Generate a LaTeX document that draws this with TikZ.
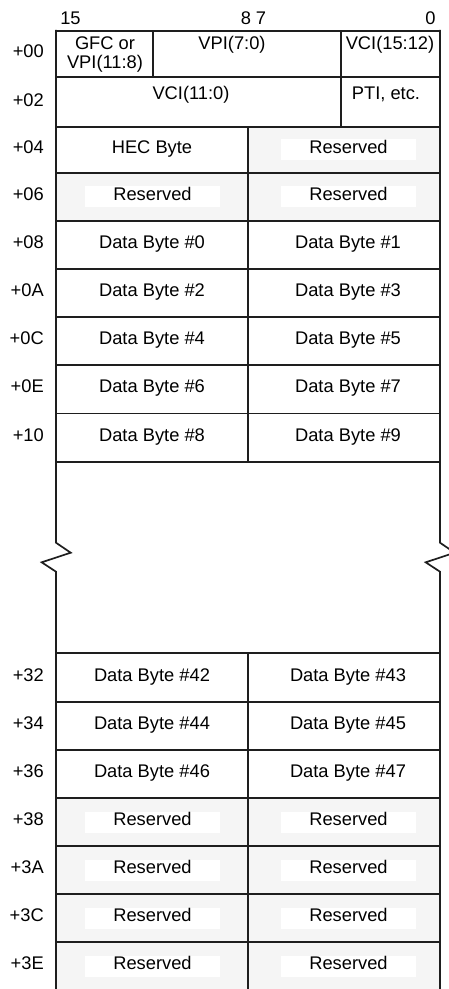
\documentclass[tikz,border=0pt]{standalone}
\usepackage{fontspec}
\setmainfont{Liberation Sans}
\definecolor{resgray}{HTML}{F5F5F5}
\definecolor{linegray}{HTML}{1E1E1E}

\begin{document}
\begin{tikzpicture}[x=1pt,y=-1pt,
    grid/.style={draw=linegray,line width=1.7pt,line cap=rect},
    txt/.style={font=\fontsize{18.3}{22}\selectfont,inner sep=0pt,text height=13.1pt,text depth=6pt},
    ofs/.style={txt,anchor=east},
    resv/.style={txt,fill=white,minimum width=135pt,minimum height=21pt}]
  \useasboundingbox (0,0) rectangle (448,989);
  \def\leftside{(56,30.7) -- (56,542.7) -- (70.7,552.7) -- (41.7,562.3) -- (56,571.7) -- (56,995)}
  % reserved areas
  \fill[resgray] (248,126.7) rectangle (440,173);
  \fill[resgray] (56,173) rectangle (440,220.7);
  \fill[resgray] (56,798.3) rectangle (440,995);
  % rules
  \foreach \y in {30.7,77,126.7,173,220.7,269,317.1,365.3,413.5,461.7,653.3,701.7,750,798.3,846,894,942}
    \draw[grid] (56,\y) -- (440,\y);
  \draw[grid] (153,30.7) -- (153,77);
  \draw[grid] (341,30.7) -- (341,126.7);
  \draw[grid] (248,126.7) -- (248,461.7);
  \draw[grid] (248,653.3) -- (248,995);
  \draw[grid] \leftside;
  \draw[grid,xshift=384pt] \leftside;%same break on the right side
  % bit numbers
  \node[txt] (b15) at (70.5,21) {15};
  \node[txt] (b8) at (246,21) {8};
  \node[txt] (b7) at (261,21) {7};
  \node[txt] (b0) at (430.5,21) {0};
  % header words
  \node[ofs] (o00) at (44,53.7) {+00};
  \node[txt] (gfc) at (105,45.7) {GFC or};
  \node[txt] (vpihi) at (105,65.3) {VPI(11:8)};
  \node[txt] (vpilo) at (232,45.7) {VPI(7:0)};
  \node[txt] (vcihi) at (390,45.7) {VCI(15:12)};
  \node[ofs] (o02) at (44,103) {+02};
  \node[txt] (vcilo) at (191,96.3) {VCI(11:0)};
  \node[txt] (pti) at (386,96.3) {PTI, etc.};
  \node[ofs] (o04) at (44,149.9) {+04};
  \node[txt] (hec) at (152,149.9) {HEC Byte};
  \node[resv] (rr04) at (348.5,149.9) {Reserved};
  % payload
  \foreach \yc/\ofs/\n in {244.9/08/0,293/0A/2,341.2/0C/4,389.4/0E/6,437.6/10/8,677.5/32/42,725.9/34/44,774.2/36/46}{
    \node[ofs] (o\ofs) at (44,\yc) {+\ofs};
    \node[txt] (d\n) at (152,\yc) {Data Byte \#\n};
    \pgfmathtruncatemacro\m{\n+1}
    \node[txt] (d\m) at (348,\yc) {Data Byte \#\m};
  }
  \foreach \yc/\ofs in {196.9/06,822.2/38,870/3A,918/3C,966/3E}{
    \node[ofs] (o\ofs) at (44,\yc) {+\ofs};
    \node[resv] (rl\ofs) at (152.5,\yc) {Reserved};
    \node[resv] (rr\ofs) at (348.5,\yc) {Reserved};
  }
\end{tikzpicture}
\end{document}
